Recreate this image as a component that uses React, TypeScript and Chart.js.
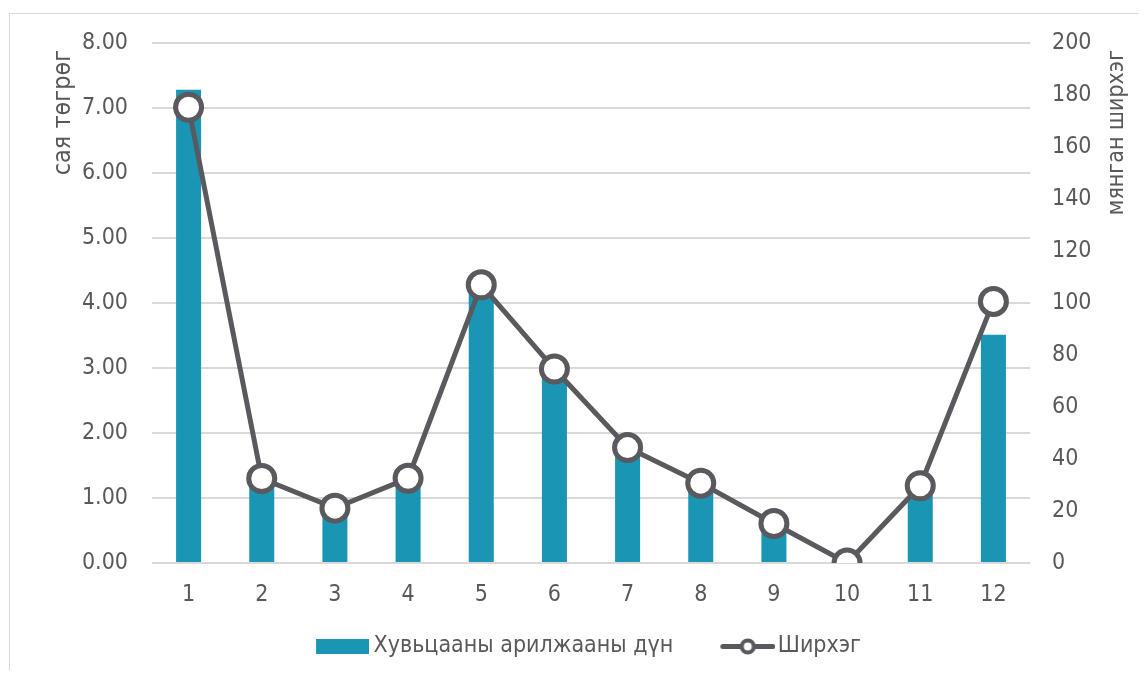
import { useEffect, useRef } from 'react';
import { Chart, registerables } from 'chart.js';

Chart.register(...registerables);

const categories = ['1', '2', '3', '4', '5', '6', '7', '8', '9', '10', '11', '12'];
const turnover = [7.28, 1.25, 0.8, 1.25, 4.2, 2.9, 1.75, 1.2, 0.6, 0, 1.12, 3.51];
const quantity = [175.3, 32.5, 21.1, 32.6, 107, 74.6, 44.4, 30.7, 15.2, 0, 29.7, 100.6];

const barLabel = 'Хувьцааны арилжааны дүн';
const lineLabel = 'Ширхэг';
const leftTitle = 'сая төгрөг';
const rightTitle = 'мянган ширхэг';

const FONT = '"DejaVu Sans Condensed", "DejaVu Sans", sans-serif';
const TEXT = '#595959';
const BAR = '#1a96b4';
const LINE = '#59595e';
const GRID = '#d9d9d9';

export default function App() {
  const ref = useRef<HTMLCanvasElement>(null);

  useEffect(() => {
    const barImg = document.createElement('canvas');
    barImg.width = 97;
    barImg.height = 15;
    const bctx = barImg.getContext('2d')!;
    bctx.fillStyle = BAR;
    bctx.fillRect(44, 0, 53, 15);

    const lineImg = document.createElement('canvas');
    lineImg.width = 101;
    lineImg.height = 17;
    const lctx = lineImg.getContext('2d')!;
    lctx.strokeStyle = LINE;
    lctx.lineWidth = 5;
    lctx.lineCap = 'round';
    lctx.beginPath();
    lctx.moveTo(48.5, 8.5);
    lctx.lineTo(98.5, 8.5);
    lctx.stroke();
    lctx.beginPath();
    lctx.arc(73.5, 8.5, 6, 0, Math.PI * 2);
    lctx.fillStyle = '#ffffff';
    lctx.fill();
    lctx.lineWidth = 4;
    lctx.stroke();

    const font = { family: FONT, size: 23 };

    const axisTitlesPlugin = {
      id: 'axisTitles',
      afterDraw(c: any) {
        const ctx = c.ctx;
        const top = c.chartArea.top + 7;
        const draw = (text: string, x: number, size: number) => {
          ctx.save();
          ctx.translate(x, top);
          ctx.rotate(-Math.PI / 2);
          ctx.font = `${size}px ${FONT}`;
          ctx.fillStyle = TEXT;
          ctx.textAlign = 'right';
          ctx.textBaseline = 'middle';
          ctx.fillText(text, 0, 0);
          ctx.restore();
        };
        draw(leftTitle, 53, 25);
        draw(rightTitle, 1107, 23);
      },
    };

    const chart = new Chart(ref.current!, {
      type: 'bar',
      data: {
        labels: categories,
        datasets: [
          {
            type: 'bar',
            label: barLabel,
            data: turnover,
            backgroundColor: BAR,
            yAxisID: 'y',
            order: 2,
            barPercentage: 0.342,
            categoryPercentage: 1,
          },
          {
            type: 'line',
            label: lineLabel,
            data: quantity,
            borderColor: LINE,
            borderWidth: 5,
            pointRadius: 13,
            pointHoverRadius: 13,
            pointBorderWidth: 5,
            pointBackgroundColor: '#ffffff',
            pointBorderColor: LINE,
            yAxisID: 'y1',
            order: 1,
            tension: 0,
          } as any,
        ],
      },
      options: {
        responsive: false,
        animation: false,
        layout: { padding: { top: 29, bottom: 6, left: 0, right: 10 } },
        plugins: {
          tooltip: { enabled: false },
          legend: {
            position: 'bottom',
            labels: {
              usePointStyle: true,
              pointStyleWidth: 83,
              padding: 10,
              color: TEXT,
              font,
              generateLabels: () => [
                {
                  text: barLabel,
                  pointStyle: barImg,
                  fillStyle: BAR,
                  strokeStyle: BAR,
                  lineWidth: 0,
                  hidden: false,
                  datasetIndex: 0,
                  fontColor: TEXT,
                } as any,
                {
                  text: lineLabel,
                  pointStyle: lineImg,
                  fillStyle: '#ffffff',
                  strokeStyle: LINE,
                  lineWidth: 0,
                  hidden: false,
                  datasetIndex: 1,
                  fontColor: TEXT,
                } as any,
              ],
            },
          },
        },
        scales: {
          x: {
            grid: { display: false, drawTicks: false },
            border: { display: false },
            ticks: { color: TEXT, font, padding: 18 },
            afterFit: (s: any) => {
              s.height = 62;
            },
          },
          y: {
            position: 'left',
            min: 0,
            max: 8,
            ticks: {
              stepSize: 1,
              callback: (v: any) => Number(v).toFixed(2),
              padding: 24,
              color: TEXT,
              font,
            },
            grid: { color: GRID, lineWidth: 2, drawTicks: false },
            border: { display: false },
            afterFit: (s: any) => {
              s.width = 142;
              s.paddingTop = 0;
              s.paddingBottom = 0;
            },
          },
          y1: {
            position: 'right',
            min: 0,
            max: 200,
            ticks: { stepSize: 20, padding: 22, color: TEXT, font },
            grid: { display: false, drawTicks: false },
            border: { display: false },
            afterFit: (s: any) => {
              s.width = 100;
              s.paddingTop = 0;
              s.paddingBottom = 0;
            },
          },
        },
      } as any,
      plugins: [axisTitlesPlugin],
    });
    return () => chart.destroy();
  }, []);

  return (
    <div
      style={{
        position: 'relative',
        top: 5,
        left: 1,
        width: 1132,
        height: 662,
        border: '1px solid #d9d9d9',
        boxSizing: 'border-box',
      }}
    >
      <canvas ref={ref} width={1130} height={660} style={{ display: 'block' }} />
    </div>
  );
}
